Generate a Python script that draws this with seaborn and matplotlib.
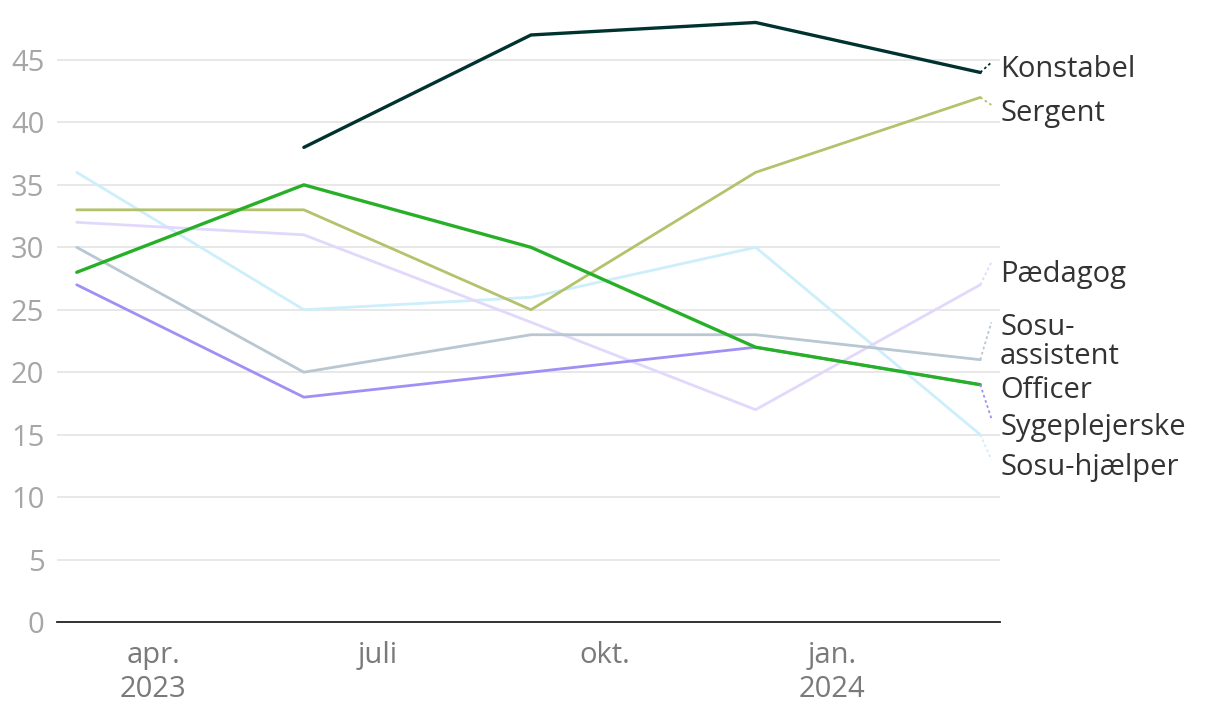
import numpy as np
import pandas as pd
import matplotlib
matplotlib.use("Agg")
import matplotlib.pyplot as plt
import seaborn as sns

# Quarterly observations
dates = pd.to_datetime(["2023-03-01", "2023-06-01", "2023-09-01", "2023-12-01", "2024-03-01"])

konstabel = [np.nan, 38, 47, 48, 44]
sergent = [33, 33, 25, 36, 42]
paedagog = [32, 31, 24, 17, 27]
sosu_assistent = [30, 20, 23, 23, 21]
officer = [28, 35, 30, 22, 19]
sygeplejerske = [27, 18, 20, 22, 19]
sosu_hjaelper = [36, 25, 26, 30, 15]

# drawing order bottom -> top
series = {
    "Sosu-hjælper": sosu_hjaelper,
    "Pædagog": paedagog,
    "Sosu-\nassistent": sosu_assistent,
    "Sygeplejerske": sygeplejerske,
    "Sergent": sergent,
    "Officer": officer,
    "Konstabel": konstabel,
}
colors = {
    "Konstabel": "#00332f",
    "Sergent": "#b4c26c",
    "Pædagog": "#e2d8fc",
    "Sosu-\nassistent": "#b8c7d1",
    "Officer": "#27b027",
    "Sygeplejerske": "#a08ff4",
    "Sosu-hjælper": "#cdeefb",
}
widths = {"Konstabel": 2.4, "Officer": 2.4}
# label y position (data units) next to the line end
label_y = {
    "Konstabel": 44.2,
    "Sergent": 40.7,
    "Pædagog": 27.8,
    "Sosu-\nassistent": 22.4,
    "Officer": 18.55,
    "Sygeplejerske": 15.6,
    "Sosu-hjælper": 12.4,
}
# where the dotted connector ends (data units)
conn_y = {
    "Konstabel": 44.8,
    "Sergent": 41.4,
    "Pædagog": 28.8,
    "Sosu-\nassistent": 24.0,
    "Officer": None,
    "Sygeplejerske": 16.3,
    "Sosu-hjælper": 13.0,
}

rows = []
for name, vals in series.items():
    for d, v in zip(dates, vals):
        rows.append({"dato": d, "værdi": v, "gruppe": name})
df = pd.DataFrame(rows)

sns.set_style("white")
plt.rcParams["font.family"] = ["Open Sans", "DejaVu Sans"]

fig = plt.figure(figsize=(12.2, 7.14), dpi=100)
ax = fig.add_axes([57 / 1220, (714 - 622) / 714, 943 / 1220, 622 / 714])

for name in series:
    sub = df[df["gruppe"] == name].dropna()
    sns.lineplot(data=sub, x="dato", y="værdi", ax=ax, color=colors[name],
                 linewidth=widths.get(name, 2.0), legend=False, zorder=3)

end_date = dates[-1]
text_x = end_date + pd.Timedelta(days=8)
conn_x = end_date + pd.Timedelta(days=4.5)
for name, vals in series.items():
    ax.text(text_x, label_y[name], name, ha="left", va="center",
            fontsize=21, color="#333333", linespacing=1.0, clip_on=False)
    if conn_y[name] is not None:
        ax.plot([end_date, conn_x], [vals[-1], conn_y[name]], color=colors[name],
                linewidth=1.3, linestyle=(0, (1.5, 1.5)), clip_on=False, zorder=3)

ax.set_xlim(pd.Timestamp("2023-02-21"), pd.Timestamp("2024-03-09"))
ax.set_ylim(0, 49.8)
ax.set_yticks(range(0, 50, 5))
ax.set_yticklabels([str(v) for v in range(0, 50, 5)], fontsize=21, color="#a6a6a6")
xt = pd.to_datetime(["2023-04-01", "2023-07-01", "2023-10-01", "2024-01-01"])
ax.set_xticks(xt)
ax.set_xticklabels(["apr.\n2023", "juli", "okt.", "jan.\n2024"], fontsize=21,
                   color="#7a7a7a", linespacing=1.2, va="top")
ax.tick_params(axis="both", length=0)
ax.tick_params(axis="y", pad=9)
ax.tick_params(axis="x", pad=14)
ax.grid(axis="y", color="#e4e4e4", linewidth=1.2, zorder=0)
ax.set_axisbelow(True)
ax.set_xlabel("")
ax.set_ylabel("")
for s in ["top", "right", "left"]:
    ax.spines[s].set_visible(False)
ax.spines["bottom"].set_color("#222222")
ax.spines["bottom"].set_linewidth(1.3)
ax.spines["bottom"].set_zorder(4)

fig.savefig("out.png", dpi=100)
plt.close(fig)
